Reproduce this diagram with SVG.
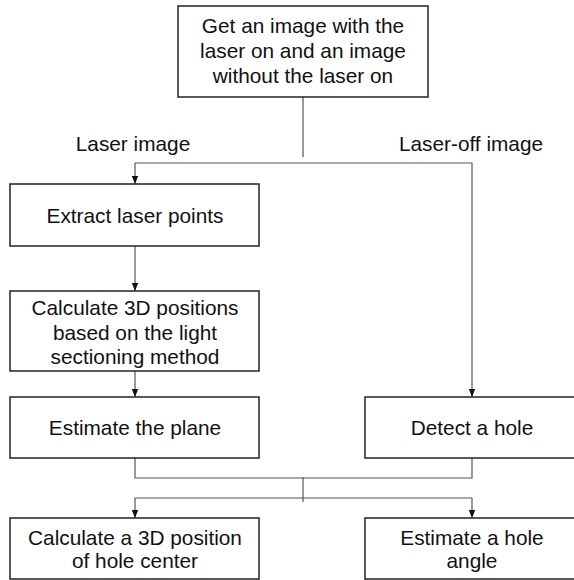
<svg xmlns="http://www.w3.org/2000/svg" width="574" height="580" viewBox="0 0 574 580">
  <defs>
    <marker id="arrow" viewBox="0 0 8 8" refX="8" refY="4" markerWidth="8" markerHeight="8" markerUnits="userSpaceOnUse" orient="auto">
      <path d="M0,0.8 L8,4 L0,7.2 Z" fill="#111"/>
    </marker>
    <style>
      .box { fill: #fff; stroke: #222; stroke-width: 1.5; }
      .txt { font-family: "Liberation Sans", Arial, sans-serif; font-size: 20.8px; fill: #111; text-anchor: middle; }
      .line { fill: none; stroke: #555; stroke-width: 1.2; }
      .arr { fill: none; stroke: #555; stroke-width: 1.2; marker-end: url(#arrow); }
    </style>
  </defs>
  <rect width="574" height="580" fill="#fff"/>

  <!-- connectors -->
  <g id="connectors">
    <line class="line" x1="303" y1="97" x2="303" y2="157"/>
    <line class="line" x1="135" y1="163" x2="472" y2="163"/>
    <line class="arr" x1="135" y1="163" x2="135" y2="184"/>
    <line class="arr" x1="472" y1="163" x2="472" y2="397"/>
    <line class="arr" x1="135" y1="246" x2="135" y2="291"/>
    <line class="arr" x1="135" y1="371" x2="135" y2="397"/>
    <polyline class="line" points="135,458 135,478 472,478 472,458"/>
    <line class="line" x1="303" y1="477" x2="303" y2="502"/>
    <line class="line" x1="135" y1="498" x2="472" y2="498"/>
    <line class="arr" x1="135" y1="498" x2="135" y2="518"/>
    <line class="arr" x1="472" y1="498" x2="472" y2="518"/>
  </g>

  <!-- branch labels -->
  <text class="txt" x="133" y="151">Laser image</text>
  <text class="txt" x="471" y="151">Laser-off image</text>

  <g id="acquire">
    <rect class="box" x="178" y="6" width="250" height="91"/>
    <text class="txt" x="303" y="33">Get an image with the</text>
    <text class="txt" x="303" y="58">laser on and an image</text>
    <text class="txt" x="303" y="83">without the laser on</text>
  </g>

  <g id="extract">
    <rect class="box" x="10" y="184" width="249" height="62"/>
    <text class="txt" x="135" y="223">Extract laser points</text>
  </g>

  <g id="positions">
    <rect class="box" x="10" y="291" width="249" height="80"/>
    <text class="txt" x="135" y="315">Calculate 3D positions</text>
    <text class="txt" x="135" y="340">based on the light</text>
    <text class="txt" x="135" y="364">sectioning method</text>
  </g>

  <g id="plane">
    <rect class="box" x="10" y="397" width="249" height="61"/>
    <text class="txt" x="135" y="435">Estimate the plane</text>
  </g>

  <g id="detect">
    <rect class="box" x="365" y="397" width="214" height="61"/>
    <text class="txt" x="472" y="435">Detect a hole</text>
  </g>

  <g id="center">
    <rect class="box" x="10" y="518" width="249" height="61"/>
    <text class="txt" x="135" y="545">Calculate a 3D position</text>
    <text class="txt" x="135" y="568">of hole center</text>
  </g>

  <g id="angle">
    <rect class="box" x="365" y="518" width="214" height="61"/>
    <text class="txt" x="472" y="545">Estimate a hole</text>
    <text class="txt" x="472" y="568">angle</text>
  </g>
</svg>
